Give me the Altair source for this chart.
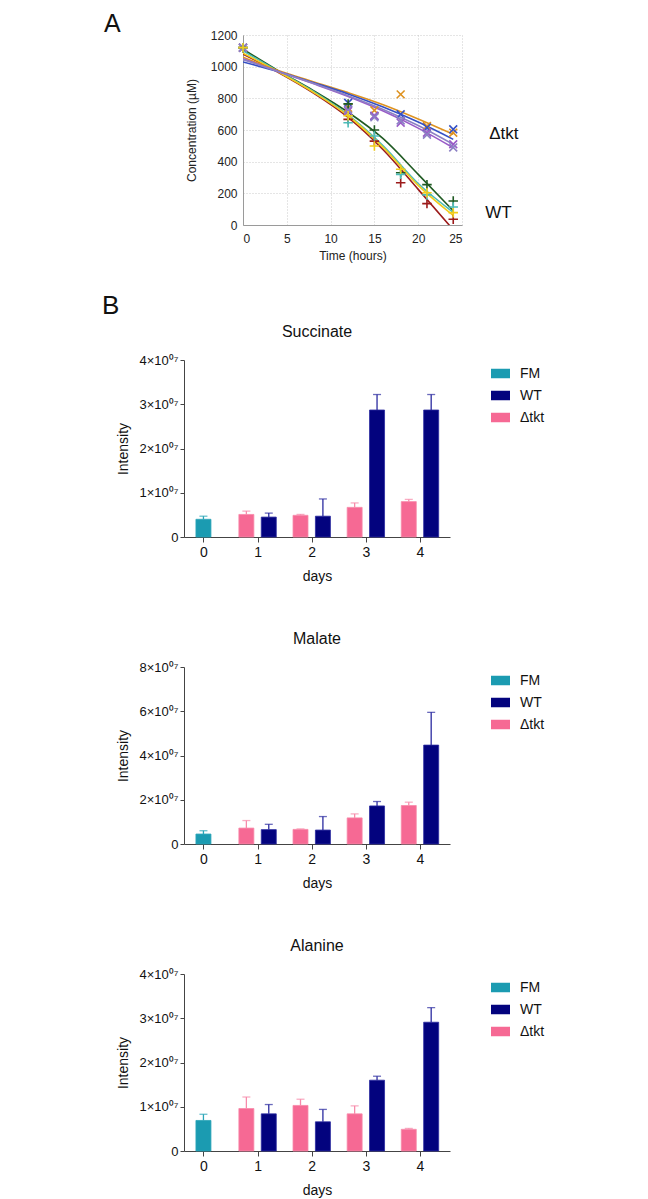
import altair as alt
import pandas as pd

FONT = "Liberation Sans"

# ---------------- Panel A: consumption over time ----------------
hours = [0, 12, 15, 18, 21, 24]
wt1_obs = [1120, 765, 600, 330, 255, 152]
wt2_obs = [1120, 667, 530, 267, 135, 36]
wt3_obs = [1120, 646, 562, 320, 190, 114]
wt4_obs = [1120, 690, 499, 352, 204, 78]
dt1_obs = [1120, 740, 724, 825, 625, 583]
dt2_obs = [1120, 772, 688, 699, 615, 604]
dt3_obs = [1120, 720, 690, 646, 583, 510]
dt4_obs = [1120, 730, 680, 660, 570, 490]

fit_hours = [0, 4, 8, 12, 16, 20, 24]
wt1_fit = [1110, 975, 850, 712, 545, 320, 90]
wt2_fit = [1080, 965, 835, 680, 475, 225, -30]
wt3_fit = [1100, 972, 845, 695, 500, 262, 80]
wt4_fit = [1085, 968, 840, 690, 490, 250, 60]
dt1_fit = [1060, 975, 905, 836, 760, 670, 573]
dt2_fit = [1030, 970, 900, 828, 745, 650, 541]
dt3_fit = [1050, 970, 893, 812, 720, 612, 488]
dt4_fit = [1045, 970, 895, 817, 730, 628, 509]

series_names = ["WT 1", "WT 2", "WT 3", "WT 4", "Δtkt 1", "Δtkt 2", "Δtkt 3", "Δtkt 4"]
series_colors = ["#1f5a22", "#9c1b1b", "#4cbcb8", "#f0cc1c",
                 "#de9220", "#3550c4", "#9a5cc8", "#8c80c4"]
series_group = ["WT", "WT", "WT", "WT", "Δtkt", "Δtkt", "Δtkt", "Δtkt"]
obs_lists = [wt1_obs, wt2_obs, wt3_obs, wt4_obs, dt1_obs, dt2_obs, dt3_obs, dt4_obs]
fit_lists = [wt1_fit, wt2_fit, wt3_fit, wt4_fit, dt1_fit, dt2_fit, dt3_fit, dt4_fit]

obs_rows, fit_rows = [], []
for name, grp, ob, ft in zip(series_names, series_group, obs_lists, fit_lists):
    for t, v in zip(hours, ob):
        obs_rows.append({"series": name, "group": grp, "t": t, "c": v})
    for t, v in zip(fit_hours, ft):
        fit_rows.append({"series": name, "group": grp, "t": t, "c": v})
obs_df = pd.DataFrame(obs_rows)
fit_df = pd.DataFrame(fit_rows)

# group labels anchored at the mean of each group's last fitted value
lab_df = (fit_df[fit_df.t == fit_hours[-1]]
          .groupby(["group", "t"], as_index=False)["c"].mean())

PLUS = "M-1,0L1,0M0,-1L0,1"
CROSS = "M-0.75,-0.75L0.75,0.75M0.75,-0.75L-0.75,0.75"

colA = alt.Scale(domain=series_names, range=series_colors)
xA = alt.X("t:Q", scale=alt.Scale(domain=[0, 25], nice=False),
           axis=alt.Axis(values=[0, 5, 10, 15, 20, 25], title="Time (hours)", grid=True,
                         gridDash=[1, 2], gridColor="#bdbdbd", gridWidth=0.8,
                         domainColor="#9a9a9a", tickSize=0, labelFontSize=12,
                         labelPadding=8, titleFontSize=12, titleFontWeight="normal",
                         titlePadding=6, labelColor="#222", titleColor="#222",
                         labelOverlap=False))
yA = alt.Y("c:Q", scale=alt.Scale(domain=[0, 1200], nice=False),
           axis=alt.Axis(values=[0, 200, 400, 600, 800, 1000, 1200], format="d",
                         title="Concentration (µM)", labelOverlap=False, labelBound=False,
                         labelFlush=False,
                         grid=True, gridDash=[1, 2], gridColor="#bdbdbd", gridWidth=0.8,
                         domainColor="#9a9a9a", tickSize=0, labelFontSize=12,
                         labelPadding=6, titleFontSize=12, titleFontWeight="normal",
                         titlePadding=12, labelColor="#222", titleColor="#222"))
colorA = alt.Color("series:N", scale=colA, legend=None)

lines = alt.Chart(fit_df).mark_line(clip=True, interpolate="monotone", strokeWidth=1.6).encode(
    x=xA, y=yA, color=colorA, detail="series:N")
pts_dt = alt.Chart(obs_df[obs_df.group == "Δtkt"]).mark_point(
    shape=CROSS, filled=False, size=110, strokeWidth=1.6, opacity=1).encode(
    x=xA, y=yA, color=colorA)
pts_wt = alt.Chart(obs_df[obs_df.group == "WT"]).mark_point(
    shape=PLUS, filled=False, size=90, strokeWidth=1.6, opacity=1).encode(
    x=xA, y=yA, color=colorA)
lab_dt = alt.Chart(lab_df[lab_df.group == "Δtkt"]).mark_text(
    align="left", baseline="middle", fontSize=17, dx=36, dy=-7, color="#111").encode(
    x=xA, y=yA, text="group:N")
lab_wt = alt.Chart(lab_df[lab_df.group == "WT"]).mark_text(
    align="left", baseline="middle", fontSize=17, dx=32, dy=-4, color="#111").encode(
    x=xA, y=yA, text="group:N")

panelA = alt.layer(lines, pts_dt, pts_wt, lab_dt, lab_wt).properties(width=219, height=190)

spacerA = alt.Chart(pd.DataFrame({"panel": ["A"]})).mark_text(
    fontSize=25, align="left", baseline="alphabetic", color="#111").encode(
    text="panel:N", x=alt.value(-80), y=alt.value(-3)).properties(width=1, height=190)

rowA = alt.hconcat(spacerA, panelA, spacing=0)

# ---------------- Panel B: bar charts (values in units of 10^7) ----------------
days = [1, 2, 3, 4]
groups = ["FM", "WT", "Δtkt"]
group_colors = ["#1b9bb1", "#03037e", "#f66994"]
err_colors = {"FM": "#2aa5b8", "WT": "#2b2ba0", "Δtkt": "#f78aaa"}

succ_fm, succ_fm_sd = 0.40, 0.07
succ_dt = [0.51, 0.49, 0.67, 0.80]
succ_dt_sd = [0.075, 0.02, 0.10, 0.05]
succ_wt = [0.45, 0.47, 2.87, 2.87]
succ_wt_sd = [0.09, 0.39, 0.35, 0.35]

mal_fm, mal_fm_sd = 0.45, 0.15
mal_dt = [0.72, 0.66, 1.18, 1.74]
mal_dt_sd = [0.34, 0.02, 0.18, 0.15]
mal_wt = [0.65, 0.63, 1.72, 4.47]
mal_wt_sd = [0.24, 0.61, 0.20, 1.48]

ala_fm, ala_fm_sd = 0.69, 0.14
ala_dt = [0.96, 1.03, 0.84, 0.49]
ala_dt_sd = [0.26, 0.14, 0.18, 0.02]
ala_wt = [0.84, 0.66, 1.60, 2.91]
ala_wt_sd = [0.21, 0.28, 0.09, 0.33]

RECT = "M-1,-0.5H1V0.5H-1Z"
colB = alt.Scale(domain=groups, range=group_colors)
legB = alt.Legend(orient="none", legendX=307, legendY=4, title=None, symbolType=RECT,
                  symbolSize=361, symbolStrokeWidth=0, labelFontSize=14, labelColor="#111",
                  rowPadding=5, labelOffset=10, padding=0)


def bar_panel(title, fm, fm_sd, dt, dt_sd, wt, wt_sd, ymax, ystep):
    frames = {
        "FM": pd.DataFrame({"day": [0], "group": ["FM"], "mean": [fm], "top": [fm + fm_sd]}),
        "Δtkt": pd.DataFrame({"day": days, "group": "Δtkt", "mean": dt,
                              "top": [m + s for m, s in zip(dt, dt_sd)]}),
        "WT": pd.DataFrame({"day": days, "group": "WT", "mean": wt,
                            "top": [m + s for m, s in zip(wt, wt_sd)]}),
    }
    offsets = {"FM": 0, "Δtkt": -11.2, "WT": 11.2}
    X = alt.X("day:Q", scale=alt.Scale(domain=[-0.2667, 4.4622], nice=False, zero=False),
              axis=alt.Axis(values=[0, 1, 2, 3, 4], format="d", title="days", grid=False,
                            domainColor="#444", tickColor="#444", tickSize=5,
                            labelFontSize=14, labelPadding=3, labelColor="#111",
                            titleFontSize=14, titleFontWeight="normal", titlePadding=10,
                            titleColor="#111"))
    Y = alt.Y("mean:Q", scale=alt.Scale(domain=[0, ymax], nice=False),
              axis=alt.Axis(values=list(range(0, ymax + 1, ystep)), grid=False,
                            labelExpr="datum.value == 0 ? '0' : datum.value + '×10⁰⁷'",
                            title="Intensity", domainColor="#444", tickColor="#444",
                            tickSize=4, labelFontSize=13, labelPadding=2, labelColor="#111",
                            titleFontSize=14, titleFontWeight="normal", titlePadding=9,
                            titleColor="#111"))
    layers = []
    for g in ["FM", "Δtkt", "WT"]:
        base = alt.Chart(frames[g])
        layers.append(base.mark_rule(xOffset=offsets[g], color=err_colors[g], strokeWidth=1.3)
                      .encode(x=X, y="mean:Q", y2="top:Q"))
        layers.append(base.mark_tick(xOffset=offsets[g], color=err_colors[g], orient="horizontal",
                                     size=8, thickness=1.3).encode(x=X, y="top:Q"))
        layers.append(base.mark_bar(width=15, xOffset=offsets[g], stroke=err_colors[g],
                                    strokeWidth=0.8).encode(
            x=X, y=Y, color=alt.Color("group:N", scale=colB, legend=legB)))
    return alt.layer(*layers).properties(
        width=266, height=177,
        title=alt.TitleParams(title, fontSize=16, fontWeight="normal", color="#111",
                              anchor="middle", offset=14))


succ = bar_panel("Succinate", succ_fm, succ_fm_sd, succ_dt, succ_dt_sd, succ_wt, succ_wt_sd, 4, 1)
mal = bar_panel("Malate", mal_fm, mal_fm_sd, mal_dt, mal_dt_sd, mal_wt, mal_wt_sd, 8, 2)
ala = bar_panel("Alanine", ala_fm, ala_fm_sd, ala_dt, ala_dt_sd, ala_wt, ala_wt_sd, 4, 1)

barsB = alt.vconcat(succ, mal, ala, spacing=48,
                    title=alt.TitleParams("B", fontSize=26, fontWeight="normal", color="#111",
                                          anchor="start", dx=-14, offset=5)
                    ).resolve_scale(x="independent", y="independent", color="independent")

chart = alt.vconcat(rowA, barsB, spacing=32).resolve_scale(
    x="independent", y="independent", color="independent").properties(
    padding={"left": 94, "top": 4, "right": 5, "bottom": 5}
).configure(font=FONT).configure_view(stroke=None)

chart.save("out.html", embed_options={"renderer": "svg", "actions": False})
